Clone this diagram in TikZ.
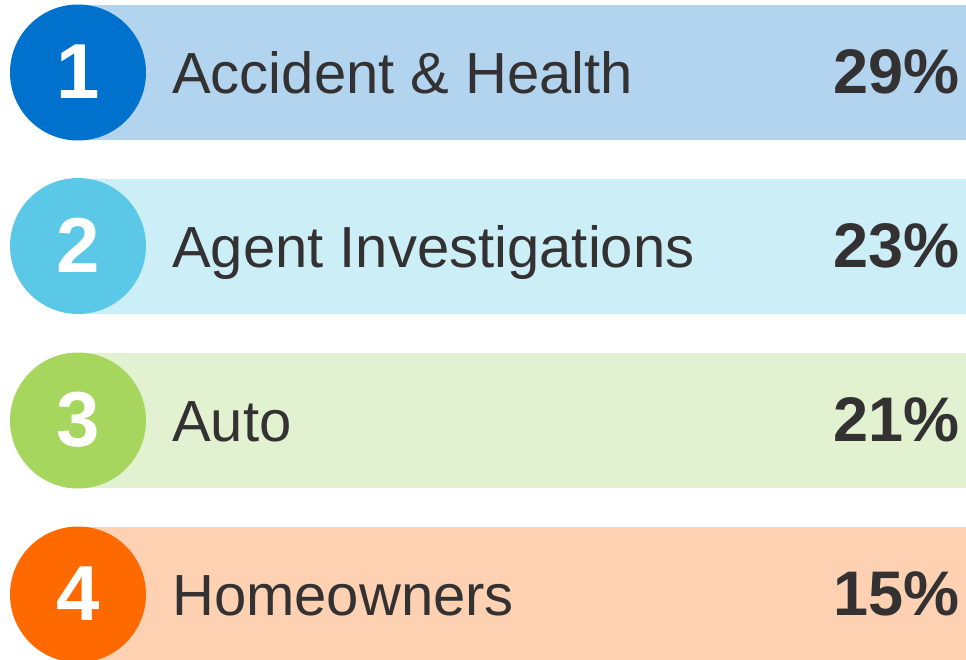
\documentclass[tikz,border=0pt]{standalone}
\usepackage{fontspec}
\setmainfont{Liberation Sans}
\definecolor{txt}{HTML}{333132}
\definecolor{c1}{HTML}{0072CE}\definecolor{b1}{HTML}{B3D4EF}
\definecolor{c2}{HTML}{5BC8E7}\definecolor{b2}{HTML}{CCEEF7}
\definecolor{c3}{HTML}{A6D65E}\definecolor{b3}{HTML}{E2F1D0}
\definecolor{c4}{HTML}{FF6A00}\definecolor{b4}{HTML}{FDD1B1}
\tikzset{
  bar/.style={inner sep=0pt, minimum width=888pt, minimum height=135pt, anchor=west},
  circ/.style={circle, inner sep=0pt, minimum size=136pt},
  dig/.style={anchor=base, inner sep=0pt, text=white, font=\fontsize{78}{80}\selectfont\bfseries},
  lbl/.style={anchor=base west, inner sep=0pt, text=txt, font=\fontsize{58}{60}\selectfont},
  pct/.style={anchor=base east, inner sep=0pt, text=txt, font=\fontsize{63}{65}\selectfont\bfseries},
}
\begin{document}
\begin{tikzpicture}[x=1pt,y=-1pt]
\useasboundingbox (0,0) rectangle (966,659);
\clip (0,0) rectangle (966,659);
\foreach \i/\y/\t/\p in {1/72.5/Accident \& Health/29\%,2/246/Agent Investigations/23\%,3/420.5/Auto/21\%,4/594.5/Homeowners/15\%}{
  \node[bar, fill=b\i] (bar\i) at (78,\y) {};
  \node[circ, fill=c\i] (circ\i) at (78,\y) {};
  \node[dig] (num\i) at (78,\y+26) {\i};
  \node[lbl] (lab\i) at (172,\y+21) {\t};
  \node[pct] (pct\i) at (960,\y+21) {\p};
}
\end{tikzpicture}
\end{document}
